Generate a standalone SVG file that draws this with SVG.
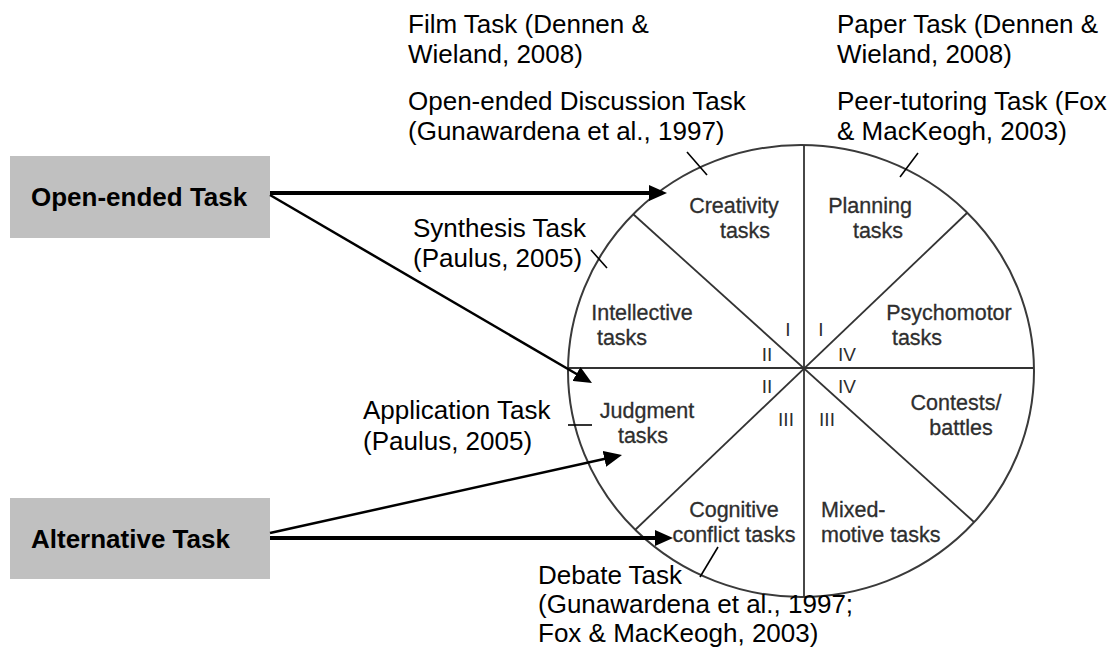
<svg xmlns="http://www.w3.org/2000/svg" width="1120" height="648" viewBox="0 0 1120 648">
<style>
.box{fill:#c0c0c0;stroke:none}
.btxt{font-family:"Liberation Sans",Arial,sans-serif;font-size:26px;font-weight:bold;fill:#000}
.ann{font-family:"Liberation Sans",Arial,sans-serif;font-size:26px;fill:#000}
.lbl{font-family:"Liberation Sans",Arial,sans-serif;font-size:21.5px;fill:#2e2e2e;stroke:#2e2e2e;stroke-width:0.3;text-anchor:middle}
.rom{font-family:"Liberation Sans",Arial,sans-serif;font-size:19px;fill:#2e2e2e;text-anchor:middle}
.wheel{fill:none;stroke:#3a3a3a;stroke-width:2}
.spoke{stroke:#333;stroke-width:1.8}
.tick{stroke:#000;stroke-width:1.6}
.thick{stroke:#000;stroke-width:4;fill:none}
.thin{stroke:#000;stroke-width:2.5;fill:none}
</style>
<defs>
<marker id="ah" markerUnits="userSpaceOnUse" markerWidth="18" markerHeight="16" refX="10" refY="8" orient="auto">
<path d="M0,0 L18,8 L0,16 z" fill="#000"/>
</marker>
</defs>
<rect width="1120" height="648" fill="#fff"/>

<g id="wheel">
<ellipse class="wheel" cx="801" cy="371" rx="233" ry="226"/>
<line class="spoke" x1="804" y1="145" x2="804" y2="597"/>
<line class="spoke" x1="568" y1="368" x2="1033" y2="368"/>
<line class="spoke" x1="633" y1="214" x2="974" y2="522"/>
<line class="spoke" x1="967" y1="213" x2="635" y2="530"/>
</g>

<g id="node-creativity">
<text class="lbl" x="734" y="213">Creativity</text>
<text class="lbl" x="745" y="238">tasks</text>
</g>
<g id="node-planning">
<text class="lbl" x="870" y="213">Planning</text>
<text class="lbl" x="878" y="238">tasks</text>
</g>
<g id="node-intellective">
<text class="lbl" x="642" y="320">Intellective</text>
<text class="lbl" x="622" y="345">tasks</text>
</g>
<g id="node-psychomotor">
<text class="lbl" x="949" y="320">Psychomotor</text>
<text class="lbl" x="917" y="345">tasks</text>
</g>
<g id="node-judgment">
<text class="lbl" x="647" y="418">Judgment</text>
<text class="lbl" x="643" y="443">tasks</text>
</g>
<g id="node-contests">
<text class="lbl" x="956" y="410">Contests/</text>
<text class="lbl" x="961" y="435">battles</text>
</g>
<g id="node-cognitive">
<text class="lbl" x="734" y="517">Cognitive</text>
<text class="lbl" x="734" y="542">conflict tasks</text>
</g>
<g id="node-mixed">
<text class="lbl" x="821" y="517" style="text-anchor:start">Mixed-</text>
<text class="lbl" x="821" y="542" style="text-anchor:start">motive tasks</text>
</g>

<g id="quadrants">
<text class="rom" x="788" y="336">I</text>
<text class="rom" x="821" y="336">I</text>
<text class="rom" x="767" y="361">II</text>
<text class="rom" x="847" y="361">IV</text>
<text class="rom" x="767" y="393">II</text>
<text class="rom" x="847" y="393">IV</text>
<text class="rom" x="786" y="426">III</text>
<text class="rom" x="827" y="426">III</text>
</g>

<g id="node-open-ended">
<rect class="box" x="10" y="156" width="260" height="82"/>
<text class="btxt" x="31" y="206">Open-ended Task</text>
</g>
<g id="node-alternative">
<rect class="box" x="10" y="498" width="260" height="81"/>
<text class="btxt" x="31" y="548">Alternative Task</text>
</g>

<g id="ann-film">
<text class="ann" x="408" y="33">Film Task (Dennen &amp;</text>
<text class="ann" x="408" y="63">Wieland, 2008)</text>
</g>
<g id="ann-discussion">
<text class="ann" x="408" y="110">Open-ended Discussion Task</text>
<text class="ann" x="408" y="140">(Gunawardena et al., 1997)</text>
</g>
<g id="ann-paper">
<text class="ann" x="837" y="33">Paper Task (Dennen &amp;</text>
<text class="ann" x="837" y="63">Wieland, 2008)</text>
</g>
<g id="ann-peer">
<text class="ann" x="837" y="110">Peer-tutoring Task (Fox</text>
<text class="ann" x="837" y="140">&amp; MacKeogh, 2003)</text>
</g>
<g id="ann-synthesis">
<text class="ann" x="413" y="237">Synthesis Task</text>
<text class="ann" x="413" y="267">(Paulus, 2005)</text>
</g>
<g id="ann-application">
<text class="ann" x="363" y="419">Application Task</text>
<text class="ann" x="363" y="450">(Paulus, 2005)</text>
</g>
<g id="ann-debate">
<text class="ann" x="538" y="584">Debate Task</text>
<text class="ann" x="538" y="613">(Gunawardena et al., 1997;</text>
<text class="ann" x="538" y="642">Fox &amp; MacKeogh, 2003)</text>
</g>

<g id="connectors">
<line class="tick" x1="687" y1="152" x2="707" y2="175"/>
<line class="tick" x1="918" y1="153" x2="900" y2="177"/>
<line class="tick" x1="591" y1="250" x2="607" y2="268"/>
<line class="tick" x1="568" y1="425" x2="592" y2="425"/>
<line class="tick" x1="718" y1="547" x2="700" y2="577"/>
<line class="thick" x1="270" y1="193" x2="659" y2="193" marker-end="url(#ah)"/>
<line class="thin" x1="270" y1="195" x2="585.1" y2="379" marker-end="url(#ah)"/>
<line class="thin" x1="270" y1="533" x2="614.2" y2="456.7" marker-end="url(#ah)"/>
<line class="thick" x1="270" y1="538" x2="665" y2="538" marker-end="url(#ah)"/>
</g>
</svg>
